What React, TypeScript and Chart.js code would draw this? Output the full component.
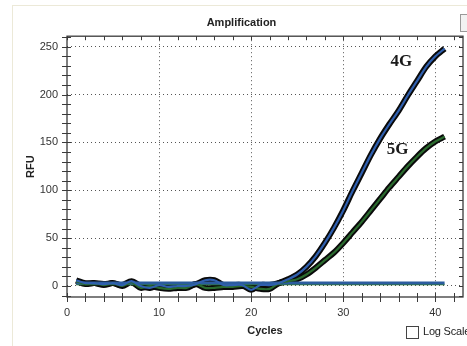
import React, { useEffect, useRef } from "react";
import { Chart, registerables } from "chart.js";

Chart.register(...registerables);

const cycles = [1, 2, 3, 4, 5, 6, 7, 8, 9, 10, 11, 12, 13, 14, 15, 16, 17, 18, 19, 20, 21, 22, 23, 24, 25, 26, 27, 28, 29, 30, 31, 32, 33, 34, 35, 36, 37, 38, 39, 40, 41];
const rfu4G = [6, 3, 3, 2, 3, 1, 5, 0, -2, 1, -1, 0, 0, 2, 6, 6, 1, 1, 1, -4, 1, 1, 3, 7, 12, 20, 31, 45, 61, 79, 99, 118, 137, 154, 169, 183, 199, 214, 229, 240, 248];
const rfu5G = [5, 2, 3, 1, 3, 0, 4, -2, 0, -2, -3, -2, -2, 2, -2, -2, -1, -1, 0, -1, -3, -3, 3, 5, 7, 12, 19, 27, 35, 45, 56, 67, 79, 91, 103, 114, 125, 135, 144, 151, 156];
const thresholdCycles = [1, 41];
const thresholdBlue = [3, 3];
const thresholdGreen = [1.5, 1.5];
const xTickLabels = [0, 10, 20, 30, 40];
const yTickLabels = [0, 50, 100, 150, 200, 250];
const xMinorTicks = [0, 2, 4, 6, 8, 10, 12, 14, 16, 18, 20, 22, 24, 26, 28, 30, 32, 34, 36, 38, 40, 42];
const yMinorTicks = [-10, 0, 10, 20, 30, 40, 50, 60, 70, 80, 90, 100, 110, 120, 130, 140, 150, 160, 170, 180, 190, 200, 210, 220, 230, 240, 250, 260];
const seriesLabels = ["4G", "5G"];
const labelCycles = [36.3, 35.9];
const labelRFU = [234, 142];

const pts = (xs: number[], ys: number[]) => xs.map((x, i) => ({ x, y: ys[i] }));

const framePlugin = {
  id: "frame",
  afterDatasetsDraw(chart: any) {
    const { ctx, chartArea: a, scales } = chart;
    const xs = scales.x;
    const ys = scales.y;
    ctx.save();
    ctx.strokeStyle = "#3a3a3a";
    ctx.lineWidth = 1.3;
    ctx.strokeRect(a.left, a.top, a.right - a.left, a.bottom - a.top);
    ctx.lineWidth = 1;
    ctx.beginPath();
    xMinorTicks.forEach((v) => {
      const px = Math.round(xs.getPixelForValue(v)) + 0.5;
      ctx.moveTo(px, a.bottom - 4);
      ctx.lineTo(px, a.bottom + 5);
      ctx.moveTo(px, a.top);
      ctx.lineTo(px, a.top + 4);
    });
    yMinorTicks.forEach((v) => {
      const py = Math.round(ys.getPixelForValue(v)) + 0.5;
      ctx.moveTo(a.left - 5, py);
      ctx.lineTo(a.left + 4, py);
      ctx.moveTo(a.right - 4, py);
      ctx.lineTo(a.right, py);
    });
    ctx.stroke();
    ctx.fillStyle = "#1a1a1a";
    ctx.font = 'bold 17px "Liberation Serif"';
    ctx.textAlign = "center";
    ctx.textBaseline = "middle";
    seriesLabels.forEach((t, i) => {
      ctx.fillText(t, xs.getPixelForValue(labelCycles[i]), ys.getPixelForValue(labelRFU[i]));
    });
    ctx.restore();
  },
};

export default function App() {
  const ref = useRef<HTMLCanvasElement>(null);
  useEffect(() => {
    const outline = (data: any, order: number) => ({
      data,
      borderColor: "#0a0a0a",
      borderWidth: 6,
      pointRadius: 0,
      tension: 0.3,
      order,
    });
    const chart = new Chart(ref.current!, {
      type: "line",
      data: {
        datasets: [
          { label: "4G", data: pts(cycles, rfu4G), borderColor: "#2f5fae", borderWidth: 2.2, pointRadius: 0, tension: 0.3, order: 1 },
          { label: "5G", data: pts(cycles, rfu5G), borderColor: "#2a6a2e", borderWidth: 2.2, pointRadius: 0, tension: 0.3, order: 2 },
          { label: "thrB", data: pts(thresholdCycles, thresholdBlue), borderColor: "#2b5c9e", borderWidth: 3, pointRadius: 0, order: 3 },
          { label: "thrG", data: pts(thresholdCycles, thresholdGreen), borderColor: "#2e7a2e", borderWidth: 1.5, pointRadius: 0, order: 3.5 },
          { label: "4Go", ...outline(pts(cycles, rfu4G), 4) },
          { label: "5Go", ...outline(pts(cycles, rfu5G), 5) },
        ],
      },
      options: {
        animation: false,
        responsive: false,
        maintainAspectRatio: false,
        layout: { padding: { left: 20, right: 4, top: 8, bottom: 0 } },
        plugins: {
          legend: { display: false },
          tooltip: { enabled: false },
          title: {
            display: true,
            text: "Amplification",
            color: "#222",
            font: { family: "Liberation Sans", size: 11, weight: "bold" },
            padding: { top: 8, bottom: 7 },
          },
        },
        scales: {
          x: {
            type: "linear",
            min: 0,
            max: 43,
            afterFit: (s: any) => { s.height = 49; },
            afterBuildTicks: (s: any) => { s.ticks = xTickLabels.map((v) => ({ value: v })); },
            ticks: { color: "#333", font: { family: "Liberation Sans", size: 11 }, padding: 9, autoSkip: false, maxRotation: 0 },
            grid: {
              drawTicks: false,
              color: (c: any) => (c.tick && c.tick.value !== 0 ? "#555" : "rgba(0,0,0,0)"),
              lineWidth: 1,
            },
            border: { display: false, dash: [1, 3] },
            title: { display: true, text: "Cycles", color: "#222", font: { family: "Liberation Sans", size: 11, weight: "bold" }, padding: { top: 4, bottom: 8 } },
          },
          y: {
            type: "linear",
            min: -11.5,
            max: 261,
            afterFit: (s: any) => { s.width = 47; },
            afterBuildTicks: (s: any) => { s.ticks = yTickLabels.map((v) => ({ value: v })); },
            ticks: { color: "#333", font: { family: "Liberation Sans", size: 11 }, padding: 9, autoSkip: false },
            grid: {
              drawTicks: false,
              color: "#555",
              lineWidth: 1,
            },
            border: { display: false, dash: [1, 3] },
            title: { display: true, text: "RFU", color: "#222", font: { family: "Liberation Sans", size: 11, weight: "bold" }, padding: { top: 4, bottom: 4 } },
          },
        },
      } as any,
      plugins: [framePlugin],
    });
    return () => chart.destroy();
  }, []);

  return (
    <div style={{ position: "fixed", left: 0, top: 0, width: 467, height: 346, background: "#fff", overflow: "hidden", fontFamily: "Liberation Sans" }}>
      <div style={{ position: "absolute", left: 12, top: 5, width: 460, height: 350, borderLeft: "1px solid #ece9d8", borderTop: "1px solid #ece9d8" }} />
      <canvas ref={ref} width={467} height={346} style={{ position: "absolute", left: 0, top: 0 }} />
      <div style={{ position: "absolute", left: 460, top: 14, width: 10, height: 16, border: "1px solid #999", background: "#f2f2f2" }} />
      <div style={{ position: "absolute", left: 406, top: 326, width: 11, height: 11, border: "1px solid #444", background: "#fff" }} />
      <div style={{ position: "absolute", left: 423, top: 325, fontSize: 11, letterSpacing: -0.2, color: "#222", whiteSpace: "nowrap" }}>Log Scale</div>
    </div>
  );
}
